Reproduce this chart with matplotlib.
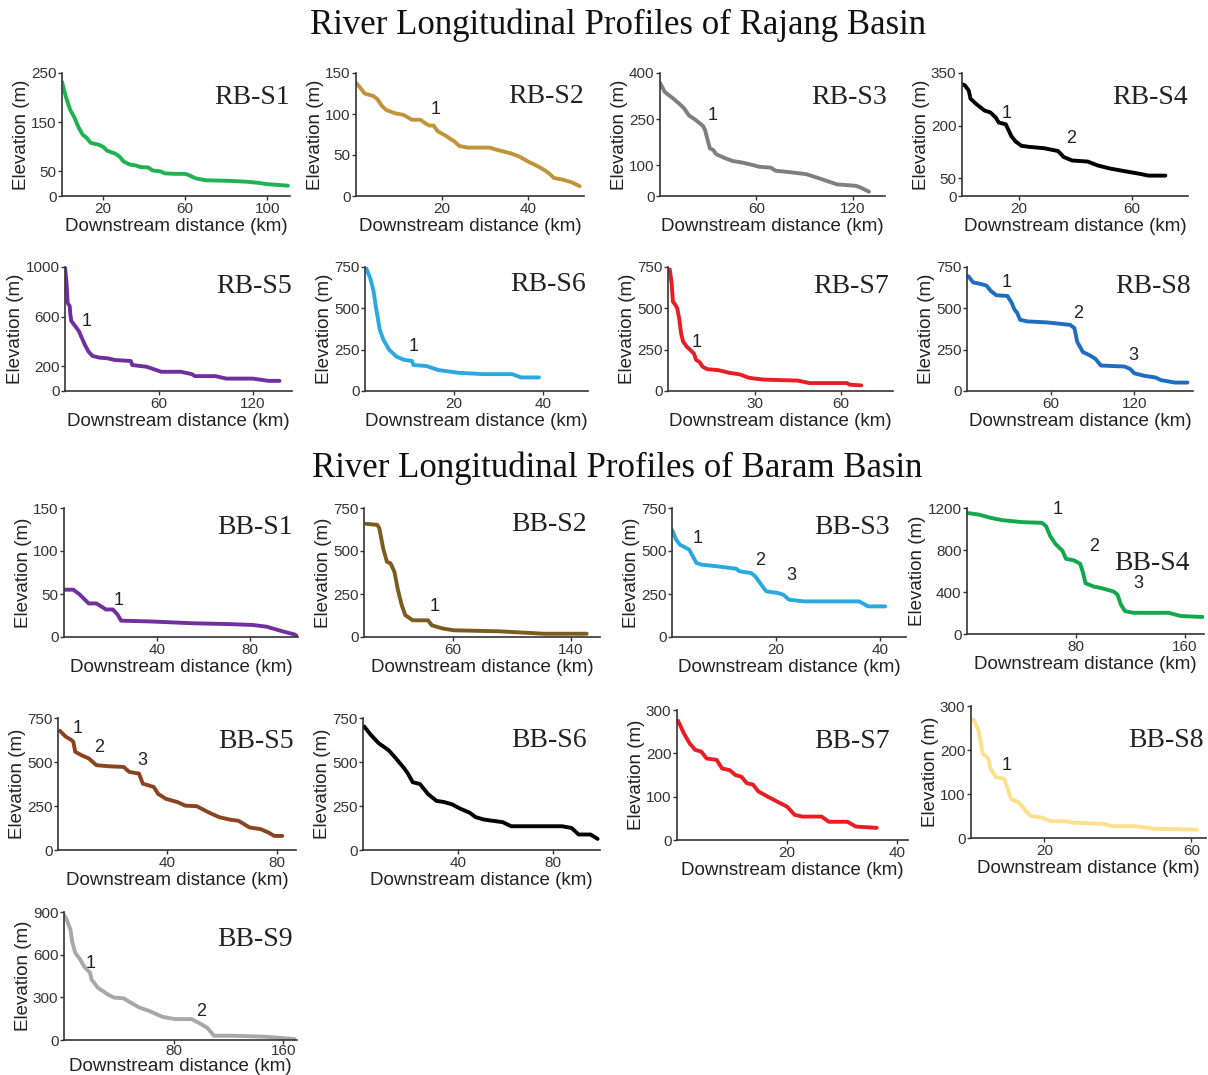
import matplotlib
matplotlib.use("Agg")
import matplotlib.pyplot as plt

# ---------------- Rajang basin (distance km, elevation m) ----------------
rb_s1_km = [0, 2, 4, 6, 8, 10, 12, 14, 18, 20, 22, 26, 28, 30, 33, 36, 38, 42, 44, 48, 50, 55, 60, 62, 65, 70, 80, 90, 95, 100, 110]
rb_s1_m = [232, 200, 175, 160, 140, 125, 118, 108, 104, 100, 92, 86, 80, 70, 64, 62, 59, 58, 52, 50, 46, 45, 45, 42, 36, 32, 31, 29, 27, 24, 21]

rb_s2_km = [0, 1, 2, 4, 5, 6, 7, 9, 11, 12, 13, 15, 16, 17, 18, 19, 21, 23, 24, 26, 31, 33, 36, 38, 40, 42, 44, 45, 46, 48, 50, 52]
rb_s2_m = [138, 132, 125, 122, 118, 110, 105, 101, 99, 96, 93, 93, 89, 86, 86, 79, 73, 66, 61, 59, 59, 56, 52, 48, 42, 37, 31, 27, 22, 20, 17, 12]

rb_s3_km = [0, 3, 8, 12, 15, 18, 22, 26.7, 28, 30, 31, 33, 35, 40, 45, 52, 62, 69, 72, 80, 91, 101, 110, 122, 125, 130]
rb_s3_m = [368, 338, 318, 300, 285, 262, 248, 228, 215, 175, 155, 150, 136, 124, 114, 108, 95, 92, 82, 78, 71, 54, 38, 33, 27, 14]

rb_s4_km = [0, 1, 2.4, 3, 5, 8, 10, 12, 13, 15.5, 17.5, 19, 21, 23.5, 29, 34, 36, 39, 44.5, 48, 52.5, 58, 63, 66, 72]
rb_s4_m = [318, 315, 300, 277, 262, 243, 238, 223, 209, 204, 170, 155, 143, 140, 136, 128, 111, 101, 98, 87, 78, 70, 63, 58, 58]

rb_s5_km = [0, 1, 1.7, 3, 3.4, 4, 6.6, 9, 10, 12.7, 15, 17.5, 22, 27, 32, 42, 43, 52, 61.5, 74, 81, 83, 96, 103, 120, 130, 137]
rb_s5_m = [1000, 870, 710, 685, 620, 565, 522, 480, 450, 372, 318, 283, 269, 264, 250, 242, 209, 196, 155, 155, 136, 120, 120, 100, 100, 82, 82]

rb_s6_km = [0.3, 1.2, 1.9, 2.4, 3.3, 4.1, 5.4, 7, 8.8, 10.5, 10.9, 13.8, 16.4, 21, 26.5, 33, 35, 39]
rb_s6_m = [740, 680, 607, 515, 372, 311, 250, 209, 188, 182, 157, 151, 127, 110, 102, 102, 82, 82]

rb_s7_km = [0.6, 1.3, 1.7, 2.6, 3.2, 3.9, 4.5, 5.2, 6.5, 7.8, 9, 9.7, 11, 12, 13.6, 17.5, 21, 25, 28, 33, 45, 49, 62, 63, 67]
rb_s7_m = [735, 645, 540, 520, 500, 436, 352, 300, 268, 247, 226, 189, 174, 147, 132, 126, 111, 100, 80, 69, 63, 48, 48, 38, 34]

rb_s8_km = [1, 4.4, 10, 14, 17, 21, 29, 32, 34, 36, 38, 43, 57, 74, 77, 79, 83, 88, 92, 96, 113, 117, 120, 127, 135, 139, 149, 158]
rb_s8_m = [694, 657, 647, 637, 606, 579, 575, 534, 493, 472, 431, 421, 415, 400, 380, 298, 236, 216, 195, 154, 148, 133, 107, 92, 82, 66, 51, 51]

# ---------------- Baram basin (distance km, elevation m) ----------------
bb_s1_km = [0, 4, 6.5, 10.6, 13.9, 16.3, 18, 21, 23, 24.5, 38, 55, 71, 81, 87, 94, 99, 100]
bb_s1_m = [55, 55, 50, 39, 39, 35, 32, 32, 26, 19, 18, 16, 15, 14, 12, 6.5, 3, 1]

bb_s2_km = [1.5, 9, 10.4, 13, 15.5, 18, 20.6, 23, 25.6, 28, 33, 43.4, 46, 53.5, 61, 92, 122, 151]
bb_s2_m = [658, 652, 632, 515, 438, 428, 380, 273, 185, 127, 97, 97, 68, 49, 39, 33, 19, 19]

bb_s3_km = [0, 0.8, 1.5, 3.3, 4, 4.7, 5.8, 8.7, 12.3, 13, 15.2, 16, 17.4, 18.1, 20.3, 21.4, 22.5, 25.4, 36, 37.7, 41]
bb_s3_m = [624, 566, 537, 508, 469, 430, 420, 411, 397, 382, 372, 353, 295, 266, 256, 246, 217, 207, 207, 178, 178]

bb_s4_km = [0, 8.7, 17.4, 26, 40.7, 55, 58, 61, 65, 70, 72.7, 78.5, 83, 85, 87, 93, 99, 107.5, 110.5, 113, 116, 122, 148, 157, 173]
bb_s4_m = [1153, 1137, 1106, 1084, 1065, 1059, 1028, 935, 857, 794, 716, 701, 670, 592, 483, 452, 436, 405, 374, 280, 218, 202, 202, 171, 162]

bb_s5_km = [0.7, 2.8, 4.9, 5.6, 6.3, 8.5, 11.3, 14, 18.3, 24, 26, 29.6, 31, 35, 36.6, 39.4, 43.7, 46.5, 50.7, 55, 59, 63, 66, 70, 74, 77, 79, 82]
bb_s5_m = [677, 644, 625, 615, 558, 539, 520, 482, 476, 472, 444, 434, 377, 358, 319, 291, 272, 252, 249, 214, 186, 172, 166, 128, 119, 99, 80, 80]

bb_s6_km = [0.5, 3.3, 6.7, 10.8, 14, 17.5, 19, 21, 24, 27.5, 31, 34, 37.5, 41, 45, 47.5, 51, 59, 62.5, 84, 88, 91, 96, 99]
bb_s6_m = [702, 654, 606, 567, 519, 462, 433, 385, 375, 317, 279, 273, 260, 235, 212, 187, 173, 158, 135, 135, 125, 88, 88, 63]

bb_s7_km = [0.2, 1.25, 2.3, 3.3, 4.4, 5.4, 7.2, 8.2, 9.6, 10.6, 11.7, 12.7, 13.8, 14.8, 16.5, 18.3, 20, 21.4, 22.8, 26.3, 27.6, 31, 32.5, 36.3]
bb_s7_m = [275, 246, 223, 208, 204, 188, 185, 165, 161, 150, 146, 131, 128, 112, 100, 88, 77, 58, 54, 54, 42, 42, 31, 28]

bb_s8_km = [0.7, 2, 3.2, 4.7, 5.3, 6.8, 9, 10, 11, 13, 15.3, 16.3, 19.5, 21.6, 25.8, 27.4, 36, 38.4, 44.7, 50, 61.5]
bb_s8_m = [269, 246, 192, 181, 158, 138, 135, 112, 88, 81, 58, 50, 46, 38, 38, 35, 32, 27, 27, 21, 19]

bb_s9_km = [0, 2, 4.7, 5.9, 8.2, 11.8, 15, 19, 20, 24.7, 31.8, 36.5, 43.5, 50.6, 55, 62, 71.8, 81, 93, 100, 104.7, 109.4, 123.5, 147, 168]
bb_s9_m = [880, 846, 776, 695, 613, 566, 513, 473, 427, 368, 321, 298, 293, 252, 228, 205, 163, 147, 147, 112, 84, 30, 30, 23, 7]

# panel names, colours, axis ranges and tick labels
names = ["RB-S1", "RB-S2", "RB-S3", "RB-S4", "RB-S5", "RB-S6", "RB-S7", "RB-S8",
         "BB-S1", "BB-S2", "BB-S3", "BB-S4", "BB-S5", "BB-S6", "BB-S7", "BB-S8", "BB-S9"]
profiles = [(rb_s1_km, rb_s1_m), (rb_s2_km, rb_s2_m), (rb_s3_km, rb_s3_m), (rb_s4_km, rb_s4_m),
            (rb_s5_km, rb_s5_m), (rb_s6_km, rb_s6_m), (rb_s7_km, rb_s7_m), (rb_s8_km, rb_s8_m),
            (bb_s1_km, bb_s1_m), (bb_s2_km, bb_s2_m), (bb_s3_km, bb_s3_m), (bb_s4_km, bb_s4_m),
            (bb_s5_km, bb_s5_m), (bb_s6_km, bb_s6_m), (bb_s7_km, bb_s7_m), (bb_s8_km, bb_s8_m),
            (bb_s9_km, bb_s9_m)]
colors = ["#1db34f", "#c0953a", "#7f7f7f", "#000000", "#6f2f9f", "#2aa9e0", "#ec1c24", "#1f6dbf",
          "#7030a0", "#7a5c1e", "#2aa9e0", "#10a84a", "#8a4420", "#000000", "#ec1c24", "#fde08c", "#a8a8a8"]
xmax = [111, 53, 140, 80, 145, 50, 78, 162, 100.5, 160, 45, 174, 87, 100, 42, 64, 170]
ymax = [250, 150, 400, 350, 1000, 750, 750, 750, 150, 750, 750, 1200, 750, 750, 300, 300, 900]
xticks = [[20, 60, 100], [20, 40], [60, 120], [20, 60], [60, 120], [20, 40], [30, 60], [60, 120],
          [40, 80], [60, 140], [20, 40], [80, 160], [40, 80], [40, 80], [20, 40], [20, 60], [80, 160]]
yticks = [[0, 50, 150, 250], [0, 50, 100, 150], [0, 100, 250, 400], [0, 50, 200, 350],
          [0, 200, 600, 1000], [0, 250, 500, 750], [0, 250, 500, 750], [0, 250, 500, 750],
          [0, 50, 100, 150], [0, 250, 500, 750], [0, 250, 500, 750], [0, 400, 800, 1200],
          [0, 250, 500, 750], [0, 250, 500, 750], [0, 100, 200, 300], [0, 100, 200, 300],
          [0, 300, 600, 900]]
# knickpoint numbers: (label, km, m)
knicks = [[], [("1", 18.4, 106)], [("1", 32.5, 262)], [("1", 15.8, 235), ("2", 38.5, 165)],
          [("1", 13.5, 560)], [("1", 11, 267)], [("1", 10, 292)],
          [("1", 28.6, 658), ("2", 80, 466), ("3", 119, 217)],
          [("1", 23.4, 42)], [("1", 48, 180)],
          [("1", 5, 570), ("2", 17, 442), ("3", 23, 355)],
          [("1", 66.7, 1190), ("2", 93, 837), ("3", 126, 484)],
          [("1", 7.3, 693), ("2", 15, 585), ("3", 31, 511)],
          [], [], [("1", 9.7, 164)], [("1", 19.6, 540), ("2", 100, 200)]]

# layout in pixels: left, right, top, bottom
W, H = 1208, 1075
boxes = [(62, 290, 73, 196), (356, 584, 73, 196), (660, 885, 73, 196), (962, 1188, 73, 196),
         (65, 292, 267, 391), (365, 588, 267, 391), (668, 893, 267, 391), (967, 1193, 267, 391),
         (64, 298, 508, 637), (364, 600, 508, 637), (672, 906, 508, 637), (967, 1204, 508, 634),
         (58, 296, 718, 850), (363, 600, 718, 850), (677, 908, 710, 840), (971, 1206, 706, 838),
         (64, 297, 912, 1040)]
name_x = [1.0, 1.0, 1.01, 1.0, 1.0, 0.99, 0.98, 0.99, 0.98, 0.945, 0.93, 0.94, 0.99, 0.945, 0.92, 0.99, 0.98]
name_y = [0.8, 0.81, 0.8, 0.8, 0.84, 0.86, 0.84, 0.84, 0.845, 0.875, 0.845, 0.56, 0.82, 0.83, 0.76, 0.735, 0.785]

serif = ["Liberation Serif", "DejaVu Serif"]
sans = ["Liberation Sans", "DejaVu Sans"]

fig = plt.figure(figsize=(W / 100, H / 100), dpi=100)
fig.patch.set_facecolor("white")

for i in range(len(names)):
    l, r, t, b = boxes[i]
    ax = fig.add_axes([l / W, 1 - b / H, (r - l) / W, (b - t) / H])
    km, m = profiles[i]
    ax.plot(km, m, color=colors[i], lw=2.8, solid_capstyle="round", solid_joinstyle="round")
    ax.set_xlim(0, xmax[i])
    ax.set_ylim(0, ymax[i])
    ax.set_xticks(xticks[i])
    ax.set_yticks(yticks[i])
    for s in ["top", "right"]:
        ax.spines[s].set_visible(False)
    for s in ["left", "bottom"]:
        ax.spines[s].set_color("#333333")
        ax.spines[s].set_linewidth(1.2)
    ax.tick_params(length=3, width=1, color="#333333", pad=1, labelcolor="#333333")
    last = i == len(names) - 1
    ax.tick_params(axis="x", pad=0 if last else 1)
    for lab in ax.get_xticklabels() + ax.get_yticklabels():
        lab.set_family(sans)
        lab.set_fontsize(11)
    ax.set_xlabel("Downstream distance (km)", family=sans, fontsize=13.5, color="#222222",
                  labelpad=0 if last else 2)
    ax.set_ylabel("Elevation (m)", family=sans, fontsize=13.5, color="#222222", labelpad=1)
    ax.text(name_x[i], name_y[i], names[i], transform=ax.transAxes, ha="right", va="center",
            family=serif, fontsize=20, color="#222222")
    for lab, x, y in knicks[i]:
        ax.text(x, y, lab, ha="center", va="center", family=sans, fontsize=13, color="#222222")

fig.text(618 / W, 1 - 25 / H, "River Longitudinal Profiles of Rajang Basin", ha="center", va="center",
         family=serif, fontsize=25, color="#111111")
fig.text(617 / W, 1 - 468 / H, "River Longitudinal Profiles of Baram Basin", ha="center", va="center",
         family=serif, fontsize=25, color="#111111")

fig.savefig("out.png", dpi=100, facecolor="white")
